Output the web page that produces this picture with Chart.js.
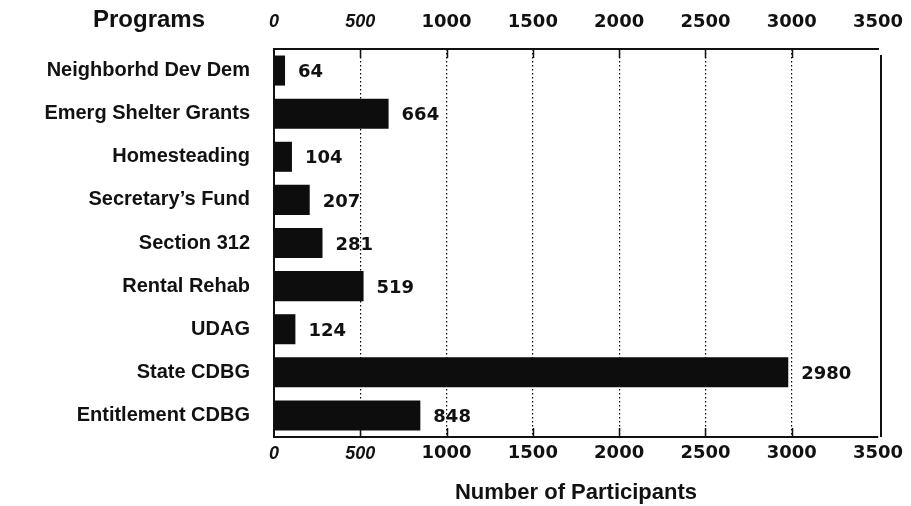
<!DOCTYPE html>
<html>
<head>
<meta charset="utf-8">
<script src="https://cdn.jsdelivr.net/npm/chart.js@4"></script>
<style>
  html, body { margin: 0; padding: 0; background: #fff; }
  #wrap { width: 911px; height: 506px; }
</style>
</head>
<body>
<div id="wrap"><canvas id="c" width="911" height="506"></canvas></div>
<script>
// Program names and participant counts
const programs = [
  "Neighborhd Dev Dem",
  "Emerg Shelter Grants",
  "Homesteading",
  "Secretary\u2019s Fund",
  "Section 312",
  "Rental Rehab",
  "UDAG",
  "State CDBG",
  "Entitlement CDBG"
];
const participants = [64, 664, 104, 207, 281, 519, 124, 2980, 848];
const axisMin = 0;
const axisMax = 3500;
const axisStep = 500;

const SANS = "'Liberation Sans', Arial, sans-serif";
const WIDE = "'DejaVu Sans', Verdana, sans-serif";

// first two tick values are set in italic, the rest upright
const tickFont = (ctx) => {
  const italic = ctx.tick && ctx.tick.value < 1000;
  return italic
    ? { family: SANS, size: 18, weight: 'bold', style: 'italic' }
    : { family: WIDE, size: 18, weight: 'bold', style: 'normal' };
};
const tickText = (v) => String(v);

// keep the plot edges fixed rather than shifting them for end labels
const noEdgePadding = (scale) => {
  scale.paddingLeft = 0;
  scale.paddingRight = 0;
};

// Heading over the category labels, value labels, inner tick marks, right frame line
const decorations = {
  id: 'decorations',
  afterDatasetsDraw(chart) {
    const ctx = chart.ctx;
    const area = chart.chartArea;
    const xs = chart.scales.x;
    ctx.save();

    // value labels after each bar
    ctx.fillStyle = '#111';
    ctx.font = "bold 18px " + WIDE;
    ctx.textBaseline = 'middle';
    ctx.textAlign = 'left';
    const meta = chart.getDatasetMeta(0);
    meta.data.forEach((bar, i) => {
      ctx.fillText(String(participants[i]), bar.x + 13, bar.y + 2);
    });

    // short solid tick marks pointing into the plot, top and bottom
    ctx.strokeStyle = '#111';
    ctx.lineWidth = 1.5;
    for (let v = axisMin + axisStep; v < axisMax; v += axisStep) {
      const px = Math.round(xs.getPixelForValue(v)) + 0.5;
      ctx.beginPath();
      ctx.moveTo(px, area.top);
      ctx.lineTo(px, area.top + 9);
      ctx.moveTo(px, area.bottom);
      ctx.lineTo(px, area.bottom - 9);
      ctx.stroke();
    }

    // right frame line
    ctx.lineWidth = 2;
    ctx.beginPath();
    ctx.moveTo(area.right + 3, area.top + 6);
    ctx.lineTo(area.right + 3, area.bottom);
    ctx.stroke();

    // "Programs" heading
    ctx.font = "bold 24px " + SANS;
    ctx.textAlign = 'center';
    ctx.textBaseline = 'middle';
    ctx.fillText('Programs', 149, 20);
    ctx.restore();
  }
};

new Chart(document.getElementById('c'), {
  type: 'bar',
  data: {
    labels: programs,
    datasets: [{
      data: participants,
      backgroundColor: '#0d0d0d',
      borderWidth: 0,
      categoryPercentage: 0.82,
      barPercentage: 0.85,
      xAxisID: 'x'
    }]
  },
  options: {
    indexAxis: 'y',
    responsive: false,
    animation: false,
    layout: { padding: { left: 0, right: 33, top: 0, bottom: 0 } },
    plugins: {
      legend: { display: false },
      tooltip: { enabled: false }
    },
    scales: {
      x: {
        type: 'linear',
        position: 'bottom',
        min: axisMin,
        max: axisMax,
        ticks: {
          stepSize: axisStep,
          color: '#111',
          font: tickFont,
          padding: 6,
          maxRotation: 0,
          callback: tickText
        },
        grid: {
          color: (ctx) => (ctx.tick && (ctx.tick.value === axisMin || ctx.tick.value === axisMax)) ? 'rgba(0,0,0,0)' : '#000',
          lineWidth: 1.2,
          drawTicks: false
        },
        border: { display: true, color: '#111', width: 2, dash: [1.5, 2.5] },
        title: {
          display: true,
          text: 'Number of Participants',
          color: '#111',
          font: { family: SANS, size: 22, weight: 'bold' },
          padding: { top: 2, bottom: 0 }
        },
        afterFit(scale) { scale.height = 69; noEdgePadding(scale); }
      },
      x2: {
        type: 'linear',
        position: 'top',
        min: axisMin,
        max: axisMax,
        ticks: {
          stepSize: axisStep,
          color: '#111',
          font: tickFont,
          padding: 16,
          maxRotation: 0,
          callback: tickText
        },
        grid: { drawOnChartArea: false, drawTicks: false },
        border: { display: true, color: '#111', width: 2 },
        afterFit(scale) { scale.height = 49; noEdgePadding(scale); }
      },
      y: {
        ticks: {
          color: '#111',
          font: { family: SANS, size: 20, weight: 'bold' },
          padding: 24,
          autoSkip: false
        },
        grid: { display: false, drawTicks: false },
        border: { display: true, color: '#111', width: 2 },
        afterFit(scale) { scale.width = 274; }
      }
    }
  },
  plugins: [decorations]
});
</script>
</body>
</html>
